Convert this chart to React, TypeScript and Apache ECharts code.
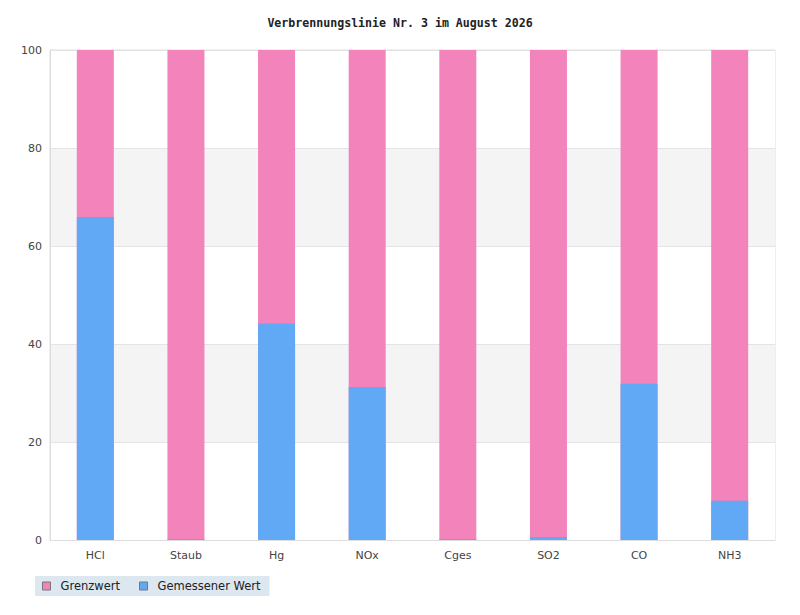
import React, { useEffect, useRef } from "react";
import * as echarts from "echarts";

const categories = ["HCl", "Staub", "Hg", "NOx", "Cges", "SO2", "CO", "NH3"];
const grenzwert = [100, 100, 100, 100, 100, 100, 100, 100];
const gemessen = [65.9, 0.2, 44.2, 31.2, 0.2, 0.6, 31.9, 8.0];
const yTicks = [0, 20, 40, 60, 80, 100];

export default function App() {
  const ref = useRef<HTMLDivElement>(null);
  useEffect(() => {
    document.body.style.margin = "0";
    const chart = echarts.init(ref.current!, null, { renderer: "svg" });
    chart.setOption({
      animation: false,
      backgroundColor: "#ffffff",
      title: {
        text: "Verbrennungslinie Nr. 3 im August 2026",
        left: "center",
        top: 12,
        textStyle: {
          fontFamily: "DejaVu Sans Mono",
          fontWeight: "bold",
          fontSize: 11.6,
          color: "#222",
        },
      },
      legend: {
        data: ["Grenzwert", "Gemessener Wert"],
        left: 35,
        top: 576,
        backgroundColor: "#dde7f0",
        padding: [4, 9, 4, 7],
        itemWidth: 8,
        itemHeight: 8,
        itemGap: 19,
        icon: "rect",
        itemStyle: { borderColor: "#777777", borderWidth: 1 },
        textStyle: {
          fontFamily: "DejaVu Sans",
          fontSize: 11.5,
          color: "#222",
          padding: [0, 0, 0, 5],
        },
      },
      grid: {
        left: 50,
        right: 25,
        top: 50,
        bottom: 75,
        show: true,
        borderColor: "#dddddd",
        borderWidth: 1,
      },
      xAxis: {
        type: "category",
        data: categories,
        axisLine: { lineStyle: { color: "#dddddd" } },
        axisTick: { show: false },
        axisLabel: { fontFamily: "DejaVu Sans", fontSize: 11, color: "#444", margin: 10 },
      },
      yAxis: {
        type: "value",
        min: yTicks[0],
        max: yTicks[yTicks.length - 1],
        interval: 20,
        axisLine: { show: true, lineStyle: { color: "#dddddd" } },
        axisTick: { show: false },
        axisLabel: { fontFamily: "DejaVu Sans", fontSize: 11, color: "#444", margin: 8 },
        splitLine: { lineStyle: { color: "#e4e4e4" } },
        splitArea: { show: true, areaStyle: { color: ["#ffffff", "#f4f4f4"] } },
      },
      series: [
        {
          name: "Grenzwert",
          type: "bar",
          data: grenzwert,
          barWidth: 37,
          barGap: "-100%",
          itemStyle: { color: "#f283bb" },
        },
        {
          name: "Gemessener Wert",
          type: "bar",
          data: gemessen,
          barWidth: 37,
          itemStyle: { color: "#62a9f5" },
        },
      ],
    });
    return () => chart.dispose();
  }, []);
  return <div ref={ref} style={{ width: 800, height: 615 }} />;
}
